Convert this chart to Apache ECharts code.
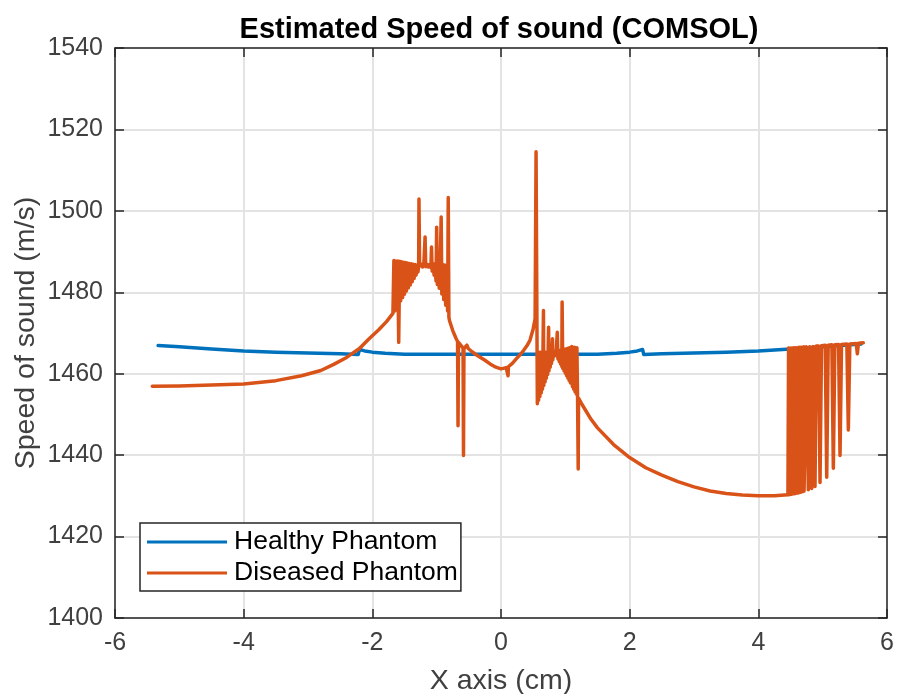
<!DOCTYPE html>
<html>
<head>
<meta charset="utf-8">
<script src="https://cdn.jsdelivr.net/npm/echarts@6/dist/echarts.min.js"></script>
<style>
html,body{margin:0;padding:0;background:#fff;}
#chart{width:898px;height:694px;}
</style>
</head>
<body>
<div id="chart"></div>
<script>
// ---- data (x in cm, y in m/s) ----
var xTicks = [-6, -4, -2, 0, 2, 4, 6];
var yTicks = [1400, 1420, 1440, 1460, 1480, 1500, 1520, 1540];

var healthy = [[-5.33,1466.9],[-5.0,1466.6],[-4.5,1466.1],[-4.0,1465.6],[-3.5,1465.3],[-3.0,1465.1],[-2.5,1464.9],[-2.22,1464.7],[-2.20,1465.95],[-2.12,1465.6],[-2.0,1465.3],[-1.8,1465.0],[-1.5,1464.8],[-1.0,1464.8],[-0.5,1464.8],[0.0,1464.8],[0.5,1464.8],[1.0,1464.8],[1.5,1464.8],[1.8,1465.0],[2.0,1465.3],[2.12,1465.6],[2.20,1465.95],[2.22,1464.7],[2.5,1464.9],[3.0,1465.1],[3.5,1465.3],[4.0,1465.6],[4.5,1466.1],[5.0,1466.6],[5.6,1467.3]];

var diseasedLeft = [[-5.42,1456.9],[-5.0,1457.0],[-4.5,1457.2],[-4.0,1457.5],[-3.5,1458.3],[-3.1,1459.5],[-2.8,1460.8],[-2.6,1462.3],[-2.4,1464.0],[-2.2,1466.2],[-2.05,1468.6],[-1.9,1470.8],[-1.78,1472.8],[-1.68,1474.8]];

var diseasedCluster1 = [[-1.665,1487.8],[-1.65,1475.4],[-1.635,1487.7],[-1.62,1476.2],[-1.605,1487.7],[-1.59,1467.7],[-1.575,1487.6],[-1.56,1477.9],[-1.545,1487.5],[-1.53,1478.7],[-1.515,1487.4],[-1.50,1479.5],[-1.485,1487.3],[-1.47,1480.3],[-1.455,1487.2],[-1.44,1481.1],[-1.425,1487.1],[-1.41,1481.8],[-1.395,1487.0],[-1.38,1482.6],[-1.365,1486.9],[-1.35,1483.4],[-1.335,1486.8],[-1.32,1484.2],[-1.305,1486.7],[-1.29,1485.0],[-1.28,1486.6],
[-1.275,1502.9],[-1.265,1486.4],[-1.24,1486.9],[-1.22,1486.2],[-1.20,1486.8],[-1.18,1493.6],[-1.17,1486.3],[-1.15,1486.9],[-1.13,1486.2],[-1.11,1486.8],[-1.09,1486.1],[-1.08,1491.1],[-1.07,1485.2],[-1.055,1487.0],[-1.04,1484.2],[-1.025,1487.0],[-1.01,1482.8],[-1.00,1496.0],[-0.99,1481.9],[-0.975,1487.0],[-0.96,1481.0],[-0.945,1486.9],[-0.93,1498.5],[-0.92,1479.6],[-0.905,1486.8],[-0.89,1478.2],[-0.875,1486.7],[-0.86,1476.8],[-0.845,1486.6],[-0.83,1475.4],[-0.82,1503.3],[-0.81,1473.9],[-0.80,1473.0]];

var diseasedMid = [[-0.75,1470.6],[-0.70,1468.7],[-0.675,1467.9],[-0.668,1447.2],[-0.661,1467.7],[-0.62,1466.9],[-0.59,1466.3],[-0.583,1439.9],[-0.576,1466.2],[-0.555,1466.6],[-0.53,1467.0],[-0.51,1466.2],[-0.45,1465.4],[-0.38,1464.6],[-0.25,1463.3],[-0.17,1462.4],[-0.08,1461.6],[0.0,1461.2],[0.08,1461.5],[0.105,1461.6],[0.11,1459.5],[0.115,1461.7],[0.18,1462.6],[0.24,1463.7],[0.30,1464.7],[0.35,1465.7],[0.40,1466.8],[0.45,1468.2],[0.50,1471.0],[0.53,1473.5],[0.545,1514.5]];

var diseasedCluster2 = [[0.565,1452.6],[0.575,1465.3],[0.585,1453.5],[0.595,1465.3],[0.605,1454.4],[0.615,1465.3],[0.625,1455.3],[0.635,1465.3],[0.645,1456.2],[0.66,1475.5],[0.665,1457.1],[0.675,1465.3],[0.685,1458.0],[0.695,1465.3],[0.705,1458.9],[0.715,1465.3],[0.725,1459.8],[0.74,1471.4],[0.745,1460.7],[0.755,1465.3],[0.765,1461.6],[0.775,1465.4],[0.785,1462.5],[0.80,1468.6],[0.805,1463.4],[0.815,1465.4],[0.825,1464.3],[0.84,1465.5],[0.855,1464.5],[0.875,1470.2],[0.885,1463.6],[0.895,1465.6],[0.905,1463.0],[0.915,1465.7],[0.925,1462.4],[0.935,1465.8],[0.945,1461.8],[0.95,1477.6],[0.96,1461.3],[0.97,1465.9],[0.98,1460.7],[0.99,1466.0],[1.00,1460.1],[1.01,1466.1],[1.02,1459.5],[1.03,1466.2],[1.04,1458.9],[1.05,1466.3],[1.06,1458.3],[1.07,1466.4],[1.08,1457.7],[1.10,1466.7],[1.11,1456.8],[1.12,1466.5],[1.13,1456.2],[1.14,1466.5],[1.15,1455.6],[1.16,1466.4],[1.17,1455.0],[1.18,1466.4],[1.19,1454.4],[1.20,1436.6],[1.205,1454.0]];

var diseasedRight = [[1.25,1452.7],[1.3,1451.4],[1.4,1448.8],[1.5,1446.7],[1.75,1442.6],[2.0,1439.4],[2.25,1436.9],[2.5,1435.1],[2.75,1433.5],[3.0,1432.2],[3.25,1431.2],[3.5,1430.6],[3.75,1430.2],[4.0,1430.0],[4.25,1430.0],[4.46,1430.3]];

var diseasedCluster3 = [[4.47,1466.3],[4.48,1430.3],[4.49,1466.3],[4.50,1430.4],[4.51,1466.3],[4.52,1430.4],[4.53,1466.3],[4.54,1430.5],[4.55,1466.4],[4.56,1430.5],[4.57,1466.4],[4.58,1430.6],[4.59,1466.4],[4.60,1430.7],[4.61,1466.4],[4.62,1430.7],[4.63,1466.5],[4.64,1430.8],[4.65,1466.5],[4.66,1430.9],[4.67,1466.5],[4.68,1431.0],[4.69,1466.5],[4.70,1431.1],[4.706,1466.6],
[4.711,1431.2],[4.726,1431.3],[4.744,1466.6],
[4.757,1466.6],[4.777,1431.5],[4.797,1466.6],
[4.81,1466.7],[4.83,1431.8],[4.85,1466.7],
[4.861,1466.7],[4.881,1432.3],[4.901,1466.8],
[4.936,1466.8],[4.959,1433.3],[4.982,1466.9],
[5.04,1467.0],[5.063,1434.6],[5.086,1467.0],
[5.143,1467.1],[5.166,1436.8],[5.189,1467.1],
[5.247,1467.2],[5.27,1439.9],[5.293,1467.2],
[5.376,1467.3],[5.399,1446.2],[5.422,1467.3],
[5.522,1467.4],[5.539,1464.9],[5.556,1467.5],[5.632,1467.6]];

var diseased = [].concat(diseasedLeft, diseasedCluster1, diseasedMid, diseasedCluster2, diseasedRight, diseasedCluster3);

var seriesNames = ['Healthy Phantom', 'Diseased Phantom'];
var titleText = 'Estimated Speed of sound (COMSOL)';
var xName = 'X axis (cm)';
var yName = 'Speed of sound (m/s)';

var FONT = '"Liberation Sans", Arial, Helvetica, sans-serif';
var axisCol = '#262626';
var labelCol = '#404040';

var chart = echarts.init(document.getElementById('chart'), null, {renderer: 'canvas'});
var xMin = xTicks[0], xMax = xTicks[xTicks.length-1], xInt = xTicks[1]-xTicks[0];
var yMin = yTicks[0], yMax = yTicks[yTicks.length-1], yInt = yTicks[1]-yTicks[0];

function baseAxis(extra) {
  return Object.assign({
    type: 'value',
    axisLine: {show: true, onZero: false, lineStyle: {color: axisCol, width: 1.5}},
    axisTick: {show: true, inside: true, length: 9, lineStyle: {color: axisCol, width: 1.5}},
    splitLine: {show: false},
    axisLabel: {show: false},
    nameMoveOverlap: false
  }, extra);
}

chart.setOption({
  animation: false,
  backgroundColor: '#ffffff',
  title: {
    text: titleText,
    left: 494,
    textAlign: 'center',
    top: 10,
    textStyle: {fontFamily: FONT, fontWeight: 'bold', fontSize: 29, color: '#000'}
  },
  grid: {left: 115, right: 11, top: 48, bottom: 76, containLabel: false, outerBoundsMode: 'none'},
  legend: {
    orient: 'vertical',
    left: 140,
    top: 523,
    padding: [5, 3, 4, 7],
    itemGap: 3,
    itemWidth: 80,
    itemHeight: 3,
    icon: 'rect',
    borderColor: axisCol,
    borderWidth: 1.5,
    backgroundColor: '#fff',
    textStyle: {fontFamily: FONT, fontSize: 26.5, color: '#000', lineHeight: 28, padding: [0, 0, 0, 2]},
    data: seriesNames
  },
  xAxis: [
    baseAxis({
      min: xMin, max: xMax, interval: xInt, position: 'bottom',
      name: xName, nameLocation: 'middle', nameGap: 49,
      nameTextStyle: {fontFamily: FONT, fontSize: 28.5, color: labelCol},
      axisLabel: {show: true, margin: 13, fontFamily: FONT, fontSize: 25, color: labelCol},
      splitLine: {show: true, lineStyle: {color: '#e3e3e3', width: 2}}
    }),
    baseAxis({min: xMin, max: xMax, interval: xInt, position: 'top'})
  ],
  yAxis: [
    baseAxis({
      min: yMin, max: yMax, interval: yInt, position: 'left',
      name: yName, nameLocation: 'middle', nameGap: 74,
      nameTextStyle: {fontFamily: FONT, fontSize: 28.5, color: labelCol},
      axisLabel: {show: true, margin: 12, fontFamily: FONT, fontSize: 25, color: labelCol,
        formatter: function (v) { return String(v); }},
      splitLine: {show: true, lineStyle: {color: '#e3e3e3', width: 2}}
    }),
    baseAxis({min: yMin, max: yMax, interval: yInt, position: 'right'})
  ],
  series: [
    {
      name: seriesNames[0], type: 'line', data: healthy,
      xAxisIndex: 0, yAxisIndex: 0,
      symbol: 'none', showSymbol: false, smooth: false,
      color: '#0072BD',
      lineStyle: {color: '#0072BD', width: 3.5, cap: 'round', join: 'round'},
      z: 3
    },
    {
      name: seriesNames[1], type: 'line', data: diseased,
      xAxisIndex: 0, yAxisIndex: 0,
      symbol: 'none', showSymbol: false, smooth: false,
      color: '#D95319',
      lineStyle: {color: '#D95319', width: 3.5, cap: 'round', join: 'round'},
      z: 4
    }
  ]
});
</script>
</body>
</html>
